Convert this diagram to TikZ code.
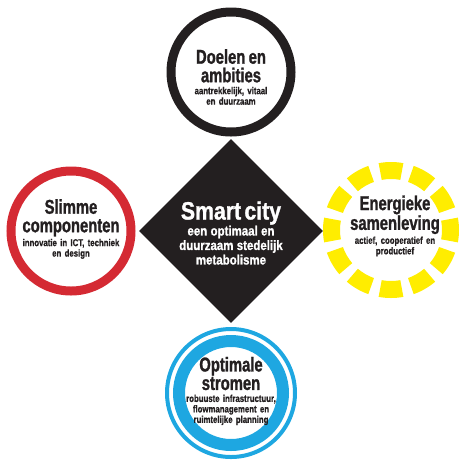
\documentclass[tikz,border=0pt]{standalone}
\usepackage{fontspec}
\setmainfont{Liberation Sans}
\newfontfamily\kopletter{Liberation Sans}[FakeStretch=0.74, FakeBold=1.2]
\newfontfamily\kleinletter{Liberation Sans}[FakeStretch=0.78, FakeBold=0.8]
\newfontfamily\cityletter{Liberation Sans}[FakeStretch=0.85, FakeBold=1.2]
\usetikzlibrary{shapes.geometric}

\definecolor{zwart}{HTML}{231F20}
\definecolor{rood}{HTML}{D42A33}
\definecolor{blauw}{HTML}{1EA7E1}
\definecolor{geel}{HTML}{FFED00}

\newcommand{\titel}[1]{{\kopletter\bfseries\fontsize{20}{18.5}\selectfont #1\par}}
\newcommand{\uitleg}[1]{{\vspace{1.5pt}\kleinletter\bfseries\fontsize{10}{10.5}\selectfont #1\par}}

\tikzset{
  ring/.style={circle, draw=#1, line width=9pt, minimum size=120pt, inner sep=0pt},
  tekst/.style={align=center, text width=112pt, inner sep=0pt, text=zwart}
}

\begin{document}
\begin{tikzpicture}[x=1pt, y=-1pt]

%\draw[help lines] (0,0) grid[step=20] (460,459);
\useasboundingbox (0,0) rectangle (460,459);

\node [ring=zwart] (doelen) at (231,72) {}; %circulo superior
\node [ring=rood] (slimme) at (71,231) {}; %circulo izquierdo
\node [circle, draw=blauw, line width=12pt, minimum size=104pt, inner sep=0pt] (stromen) at (231,393) {};
\draw [blauw, line width=4pt] (stromen.center) circle [radius=64]; %anillo exterior
\node [circle, minimum size=100pt, inner sep=0pt] (zon) at (391,230) {};
\foreach \a in {0,30,...,330} %rayos del sol
  \fill [geel, shift={(zon.center)}] (\a-10.5:51) arc [start angle=\a-10.5, end angle=\a+10.5, radius=51]
    -- (\a+10.5:68) arc [start angle=\a+10.5, end angle=\a-10.5, radius=68] -- cycle;
\node [diamond, fill=zwart, minimum size=184pt, inner sep=0pt] (smart) at (231,231) {}; %rombo central

\node [tekst] (doelentekst) at (231,77) {\titel{Doelen en\\ambities}\uitleg{aantrekkelijk, vitaal\\en duurzaam}};
\node [tekst] (slimmetekst) at (71,229) {\titel{Slimme\\componenten}\uitleg{innovatie in ICT, techniek\\en design}};
\node [tekst] (zontekst) at (395,226) {\titel{Energieke\\samenleving}\uitleg{actief, cooperatief en\\productief}};
\node [tekst] (stromentekst) at (231,391) {\titel{Optimale\\stromen}\uitleg{robuuste infrastructuur,\\flowmanagement en\\ruimtelijke planning}};
\node [tekst, text=white, text width=130pt] (smarttekst) at (231,233)
  {{\cityletter\bfseries\fontsize{25}{18}\selectfont Smart city\par}%
   {\cityletter\bfseries\fontsize{13.5}{14.5}\selectfont een optimaal en\\duurzaam stedelijk\\metabolisme\par}};

\end{tikzpicture}
\end{document}
